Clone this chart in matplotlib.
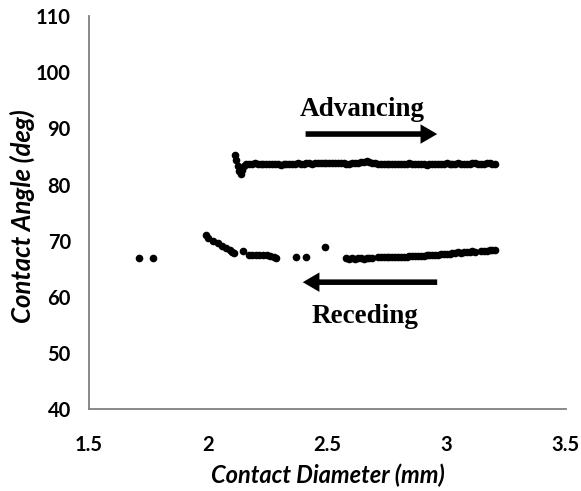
import numpy as np
import matplotlib.pyplot as plt
from matplotlib.patches import FancyArrowPatch

# Advancing contact angle
adv_d = [2.112, 2.118, 2.124, 2.130, 2.137, 2.143, 2.150, 2.160, 2.172, 2.184,
         2.196, 2.208, 2.220, 2.232, 2.244, 2.256, 2.268, 2.280, 2.292, 2.304,
         2.316, 2.328, 2.340, 2.352, 2.364, 2.376, 2.388, 2.400, 2.412, 2.424,
         2.436, 2.448, 2.460, 2.472, 2.484, 2.496, 2.508, 2.520, 2.532, 2.544,
         2.556, 2.568, 2.580, 2.592, 2.604, 2.616, 2.628, 2.640, 2.652, 2.664,
         2.676, 2.688, 2.700, 2.712, 2.724, 2.736, 2.748, 2.760, 2.772, 2.784,
         2.796, 2.808, 2.820, 2.832, 2.844, 2.856, 2.868, 2.880, 2.892, 2.904,
         2.916, 2.928, 2.940, 2.952, 2.964, 2.976, 2.988, 3.000, 3.012, 3.024,
         3.036, 3.048, 3.060, 3.072, 3.084, 3.096, 3.108, 3.120, 3.132, 3.144,
         3.156, 3.168, 3.180, 3.192, 3.204]
adv_ang = [85.2, 84.3, 83.3, 82.4, 81.8, 82.6, 83.3, 83.6, 83.7, 83.6,
           83.8, 83.7, 83.6, 83.7, 83.6, 83.7, 83.6, 83.7, 83.6, 83.5,
           83.6, 83.7, 83.7, 83.6, 83.7, 83.8, 83.7, 83.7, 83.8, 83.8,
           83.7, 83.8, 83.9, 83.9, 83.8, 83.9, 83.9, 83.9, 83.8, 83.9,
           83.9, 83.8, 83.7, 83.7, 83.8, 83.9, 83.9, 84.0, 84.1, 84.2,
           84.0, 83.8, 83.8, 83.7, 83.6, 83.7, 83.6, 83.7, 83.6, 83.6,
           83.7, 83.7, 83.6, 83.7, 83.8, 83.7, 83.6, 83.6, 83.7, 83.6,
           83.5, 83.6, 83.7, 83.6, 83.7, 83.6, 83.7, 83.8, 83.7, 83.6,
           83.7, 83.8, 83.7, 83.6, 83.6, 83.7, 83.8, 83.8, 83.7, 83.6,
           83.7, 83.9, 83.8, 83.6, 83.7]

# Receding contact angle
rec_d = [1.71, 1.77, 1.99, 2.00, 2.02, 2.04, 2.06, 2.075, 2.09, 2.10,
         2.11, 2.145, 2.17, 2.185, 2.20, 2.215, 2.23, 2.245, 2.26, 2.275,
         2.285, 2.37, 2.41, 2.49,
         2.580, 2.592, 2.604, 2.616, 2.628, 2.640, 2.652, 2.664, 2.676, 2.688,
         2.712, 2.724, 2.736, 2.748, 2.760, 2.772, 2.784, 2.796, 2.808, 2.820,
         2.832, 2.844, 2.856, 2.868, 2.880, 2.892, 2.904, 2.916, 2.928, 2.940,
         2.952, 2.964, 2.976, 2.988, 3.000, 3.012, 3.024, 3.036, 3.048, 3.060,
         3.072, 3.084, 3.096, 3.108, 3.120, 3.144, 3.156, 3.168, 3.180, 3.192,
         3.204]
rec_ang = [66.9, 66.9, 71.0, 70.4, 69.9, 69.5, 69.1, 68.7, 68.4, 68.0,
           67.8, 68.1, 67.5, 67.4, 67.5, 67.4, 67.5, 67.4, 67.3, 67.0,
           66.9, 67.0, 67.0, 68.9,
           66.9, 66.8, 66.9, 66.8, 66.9, 66.9, 66.8, 66.9, 66.9, 66.9,
           67.0, 67.0, 67.0, 67.0, 67.1, 67.0, 67.1, 67.1, 67.1, 67.1,
           67.1, 67.2, 67.2, 67.3, 67.2, 67.3, 67.3, 67.4, 67.4, 67.4,
           67.5, 67.5, 67.6, 67.6, 67.7, 67.7, 67.8, 67.8, 67.9, 67.8,
           68.0, 67.9, 68.0, 68.1, 68.0, 68.2, 68.1, 68.2, 68.3, 68.4,
           68.4]

x_ticks = [1.5, 2, 2.5, 3, 3.5]
x_labels = ["1.5", "2", "2.5", "3", "3.5"]
y_ticks = [40, 50, 60, 70, 80, 90, 100, 110]

fig = plt.figure(figsize=(5.81, 4.91), dpi=100)
ax = fig.add_axes([0.153, 0.167, 0.821, 0.800])

ax.plot(adv_d, adv_ang, 'o', color='black', ms=5.5, mew=0)
ax.plot(rec_d, rec_ang, 'o', color='black', ms=5.5, mew=0)

ax.set_xlim(1.5, 3.5)
ax.set_ylim(40, 110)
ax.set_xticks(x_ticks)
ax.set_xticklabels(x_labels)
ax.set_yticks(y_ticks)

for s in ['top', 'right']:
    ax.spines[s].set_visible(False)
for s in ['left', 'bottom']:
    ax.spines[s].set_color('#808080')
    ax.spines[s].set_linewidth(1.3)

ax.tick_params(length=0)
ax.tick_params(axis='x', pad=19)
ax.tick_params(axis='y', pad=13)
for lab in ax.get_xticklabels() + ax.get_yticklabels():
    lab.set_fontfamily('Lato')
    lab.set_fontweight('bold')
    lab.set_fontsize(14.5)
    lab.set_color('black')

ax.set_xlabel("Contact Diameter (mm)", fontfamily='Lato', fontweight='bold',
              fontstyle='italic', fontsize=17, labelpad=6)
ax.set_ylabel("Contact Angle (deg)", fontfamily='Lato', fontweight='bold',
              fontstyle='italic', fontsize=18.5, labelpad=8)
ax.yaxis.set_label_coords(-0.114, 0.49)

# arrows + labels
sty = "simple,head_width=14,head_length=12,tail_width=4"
ax.add_patch(FancyArrowPatch((2.397, 89.0), (2.972, 89.0), arrowstyle=sty,
                             mutation_scale=1, color='black', lw=0))
ax.add_patch(FancyArrowPatch((2.972, 62.6), (2.385, 62.6), arrowstyle=sty,
                             mutation_scale=1, color='black', lw=0))
ax.text(2.645, 93.4, "Advancing", ha='center', va='center', fontsize=19.5,
        fontweight='bold', fontfamily='Liberation Serif')
ax.text(2.657, 56.4, "Receding", ha='center', va='center', fontsize=19.5,
        fontweight='bold', fontfamily='Liberation Serif')

plt.savefig("out.png", dpi=100)
